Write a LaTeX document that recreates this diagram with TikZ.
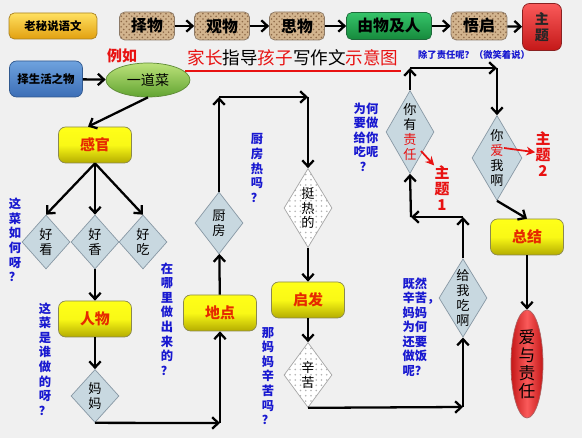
\documentclass[tikz,border=0pt]{standalone}
\usepackage{fontspec}
\setmainfont{Noto Sans CJK SC}
\usetikzlibrary{shapes.geometric,arrows.meta,positioning,calc,patterns}
\definecolor{bg}{HTML}{F0F0F0}
\definecolor{qblue}{HTML}{1818D0}
\definecolor{hired}{HTML}{E81212}
\definecolor{ytop}{HTML}{FFFF18}
\definecolor{ybot}{HTML}{B4AC00}
\definecolor{yline}{HTML}{8A8850}
\definecolor{ytext}{HTML}{E62A00}
\definecolor{dfill}{HTML}{C8D8E0}
\definecolor{dline}{HTML}{8898A4}
\definecolor{sand}{HTML}{D2B48E}
\definecolor{sanddot}{HTML}{8E6A48}
\definecolor{sandline}{HTML}{8C7A68}
\definecolor{gtop}{HTML}{FFE060}
\definecolor{gbot}{HTML}{E2A010}
\definecolor{goldline}{HTML}{A88020}
\definecolor{grtop}{HTML}{36C46A}
\definecolor{grbot}{HTML}{168A3C}
\definecolor{greenline}{HTML}{1E6A3A}
\definecolor{rtop}{HTML}{FA5A5A}
\definecolor{rbot}{HTML}{C41818}
\definecolor{redline}{HTML}{8A2020}
\definecolor{btop}{HTML}{6EA2DE}
\definecolor{bbot}{HTML}{3C6EB6}
\definecolor{blueline}{HTML}{30588E}
\definecolor{ltop}{HTML}{BCE27A}
\definecolor{lbot}{HTML}{62A432}
\definecolor{lline}{HTML}{5E8A36}

\begin{document}
\begin{tikzpicture}[x=0.02cm, y=-0.02cm,
  arr/.style={-{Straight Barb[length=3.5pt,width=6.5pt]}, line width=1.3pt},
  rarr/.style={-{Stealth[length=5pt,width=5pt]}, line width=1pt, hired},
  sandbox/.style={rectangle, rounded corners=3pt, draw=sandline, preaction={fill=sand}, pattern=crosshatch dots, pattern color=sanddot, minimum width=1.1cm, minimum height=0.56cm, inner sep=0pt, font=\bfseries\fontsize{9}{10}\selectfont},
  ybox/.style={rectangle, rounded corners=4pt, draw=yline, top color=ytop, bottom color=ybot, middle color=ytop!92!ybot, minimum width=1.46cm, minimum height=0.72cm, font=\bfseries\fontsize{8.5}{9}\selectfont, text=ytext},
  dia/.style={diamond, aspect=0.6, inner sep=0pt, minimum width=0.96cm, font=\fontsize{7.5}{8.4}\selectfont, align=center},
  bluedia/.style={dia, draw=dline, fill=dfill},
  dotdia/.style={dia, draw=gray!70, preaction={fill=white}, pattern=dots, pattern color=gray!60},
  ask/.style={text=qblue, font=\bfseries\fontsize{7}{8.3}\selectfont, align=center, inner sep=0pt},
  theme/.style={text=hired, font=\bfseries\fontsize{8.5}{9}\selectfont, align=center, inner sep=0pt}
]
  \fill[bg] (0,0) rectangle (582,438);
  \useasboundingbox (0,0) rectangle (582,438);

  \node[rectangle, rounded corners=3pt, draw=goldline, top color=gtop, bottom color=gbot, minimum width=1.76cm, minimum height=0.52cm, font=\bfseries\fontsize{6.5}{7}\selectfont] (lm) at (53,26) {老秘说语文};
  \node[sandbox] (zw) at (147,26) {择物};
  \node[sandbox] (gw) at (222,26) {观物};
  \node[sandbox] (sw) at (297,26) {思物};
  \node[rectangle, rounded corners=3pt, draw=greenline, top color=grtop, bottom color=grbot, minimum width=1.7cm, minimum height=0.54cm, font=\bfseries\fontsize{9}{10}\selectfont] (yw) at (389,26) {由物及人};
  \node[sandbox, minimum width=1.12cm] (wq) at (479,26) {悟启};
  \node[rectangle, rounded corners=4pt, draw=redline, top color=rtop, bottom color=rbot, minimum width=0.78cm, minimum height=0.94cm, align=center, text=black!85, font=\bfseries\fontsize{8}{9.5}\selectfont] (zt) at (542,27) {主\\题};
  \foreach \a/\b in {zw/gw,gw/sw,sw/yw,yw/wq,wq/zt}{\draw[arr] (\a) -- (\b);}

  \node[text=hired, font=\bfseries\fontsize{8.5}{9}\selectfont] (lr) at (122,56) {例如};
  \node[font=\fontsize{10}{11}\selectfont, inner sep=1pt] (title) at (293,58) {{\color{hired}家长}指导{\color{hired}孩子}写作文{\color{hired}示意图}};
  \draw[hired, line width=1.4pt] ([yshift=-1.5pt]title.south west) -- ([yshift=-1.5pt]title.south east);

  \node[rectangle, rounded corners=4pt, draw=blueline, top color=btop, bottom color=bbot, minimum width=1.46cm, minimum height=0.72cm, font=\bfseries\fontsize{6.5}{7}\selectfont] (sh) at (46,79) {择生活之物};
  \node[ellipse, draw=lline, top color=ltop, bottom color=lbot, minimum width=1.68cm, minimum height=0.68cm, inner sep=0pt, font=\fontsize{8}{9}\selectfont] (ydc) at (148,80) {一道菜};
  \draw[arr] (sh) -- (ydc);

  \node[ybox] (gg) at (95,145) {感官};
  \node[bluedia, minimum height=1.08cm] (hk) at (46,242) {好\\看};
  \node[bluedia, minimum height=1.08cm] (hx) at (95,242) {好\\香};
  \node[bluedia, minimum height=1.08cm] (hc) at (143,242) {好\\吃};
  \node[ybox] (rw) at (95,319) {人物};
  \node[bluedia, minimum height=1.06cm] (mm) at (95,396) {妈\\妈};
  \node[ybox] (dd) at (220,313) {地点};
  \node[bluedia, minimum height=1.24cm] (cf) at (219,223) {厨\\房};
  \node[dotdia, minimum height=1.58cm] (trd) at (308,208) {挺\\热\\的};
  \node[ybox] (qf) at (308,300) {启发};
  \node[dotdia, minimum height=1.3cm] (xk) at (308,375) {辛\\苦};
  \node[bluedia, minimum height=1.54cm] (gw2) at (463,298) {给\\我\\吃\\啊};
  \node[bluedia, minimum height=1.66cm] (nyz) at (410,132) {你\\有\\{\color{hired}责}\\{\color{hired}任}};
  \node[bluedia, minimum height=1.7cm, minimum width=1cm] (nai) at (497,158) {你\\{\color{hired}爱}\\我\\啊};
  \node[ybox] (zj) at (527,237) {总结};
  \node[ellipse, draw=redline!70, left color=rbot, right color=rbot, middle color=rtop, minimum width=0.64cm, minimum height=2.16cm, inner sep=0pt, align=center, font=\fontsize{9.5}{10.2}\selectfont] (azr) at (527,364) {爱\\与\\责\\任};

  \coordinate (c1) at (220,423);
  \coordinate (c2) at (219,97);
  \coordinate (c3) at (308,97);
  \coordinate (c4) at (463,407);
  \coordinate (c5) at (463,217);
  \coordinate (c6) at (411,217);
  \coordinate (c7) at (410,68);
  \coordinate (c8) at (497,68);

  \draw[arr] (ydc.south) -- ([xshift=-0.14cm]gg.north);
  \foreach \d in {hk,hx,hc}{\draw[arr] (gg.south) -- (\d.north);}
  \draw[arr] (hx) -- (rw);
  \draw[arr] (rw) -- (mm);
  \draw[arr] (mm.south) -- (c1);
  \draw[arr] (c1) -- (dd);
  \draw[arr] (dd) -- (cf);
  \draw[arr] (cf.north) -- (c2);
  \draw[arr] (c2) -- (c3);
  \draw[arr] (c3) -- (trd.north);
  \draw[arr] (trd) -- (qf);
  \draw[arr] (qf) -- (xk);
  \draw[arr] (xk.south) -- (c4);
  \draw[arr] (c4) -- (gw2.south);
  \draw[arr] (gw2.north) -- (c5);
  \draw[arr] (c5) -- (c6);
  \draw[arr] (c6) -- (nyz.south);
  \draw[arr] (nyz.north) -- (c7);
  \draw[arr] (c7) -- (c8);
  \draw[arr] (c8) -- (nai.north);
  \draw[arr] (nai.south) -- (zj.north);
  \draw[arr] (zj) -- (azr);

  \node[theme] (t1) at (442,188) {主\\题\\1};
  \node[theme] (t2) at (543,154) {主\\题\\2};
  \coordinate (r1) at (421,151);
  \coordinate (r2) at (504,148);
  \draw[rarr] (r1) -- (t1.north west);
  \draw[rarr] (r2) -- ([yshift=1pt]t2.west);

  \node[ask] (q1) at (15,240) {这\\菜\\如\\何\\呀\\？};
  \node[ask] (q2) at (45,359) {这\\菜\\是\\谁\\做\\的\\呀\\？};
  \node[ask] (q3) at (167,319) {在\\哪\\里\\做\\出\\来\\的\\？};
  \node[ask] (q4) at (257,168) {厨\\房\\热\\吗\\？};
  \node[ask] (q5) at (366,137) {为何\\要做\\给你\\吃呢\\？};
  \node[ask] (q6) at (268,376) {那\\妈\\妈\\辛\\苦\\吗\\？};
  \node[ask, align=left] (q7) at (421,327) {既然\\辛苦，\\妈妈\\为何\\还要\\做饭\\呢？};
  \node[ask, font=\bfseries\fontsize{5.3}{6}\selectfont] (q8) at (474,55) {除了责任呢？（微笑着说）};
\end{tikzpicture}
\end{document}
